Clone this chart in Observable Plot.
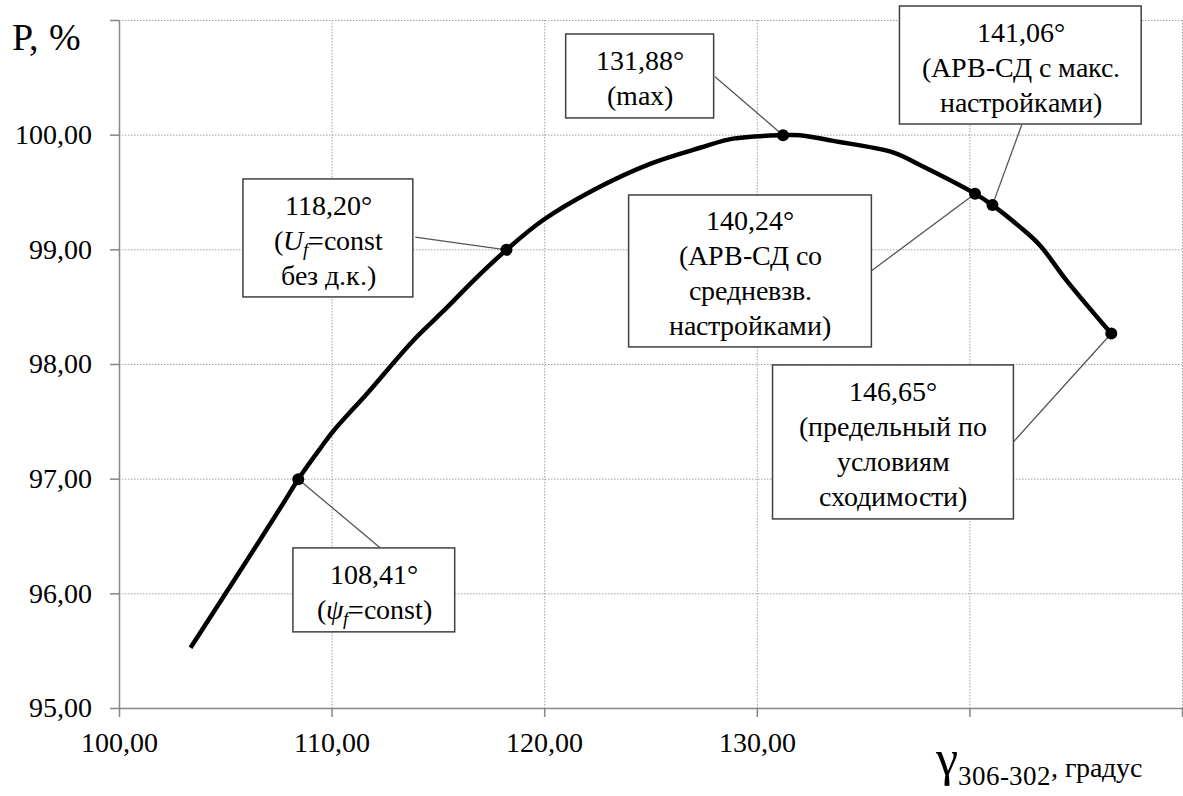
<!DOCTYPE html>
<html>
<head>
<meta charset="utf-8">
<script src="https://cdn.jsdelivr.net/npm/d3@7"></script>
<script src="https://cdn.jsdelivr.net/npm/@observablehq/plot@0.6"></script>
<style>
  @font-face { font-family: "ChartSerif"; font-style: normal; font-weight: 400; src: local("Liberation Serif"), local("LiberationSerif"), local("LiberationSerif-Regular"); }
  @font-face { font-family: "ChartSerif"; font-style: italic; font-weight: 400; src: local("Liberation Serif Italic"), local("LiberationSerif-Italic"); }
</style>
</head>
<body style="margin:0;background:white">
<div id="chart"></div>
<script>
// ---- data ----
const curveX = [103.34, 104.42, 106.02, 107.57, 108.41, 109.45, 110.06, 111.66, 113.82, 115.42, 116.64, 118.20, 119.93, 122.28, 124.96, 127.31, 128.86, 131.21, 132.01, 133.56, 136.38, 137.65, 140.24, 141.06, 142.35, 143.29, 144.56, 146.65];
const curveY = [95.53, 95.84, 96.30, 96.75, 97.00, 97.27, 97.42, 97.75, 98.21, 98.50, 98.73, 99.00, 99.26, 99.52, 99.75, 99.89, 99.97, 100.00, 100.00, 99.95, 99.85, 99.74, 99.49, 99.39, 99.20, 99.04, 98.73, 98.27];

const markX = [108.41, 118.20, 131.21, 140.24, 141.06, 146.65];
const markY = [97.00, 99.00, 100.00, 99.49, 99.39, 98.27];
const markLabels = [
  "108,41°\n(ψf=const)",
  "118,20°\n(Uf=const\nбез д.к.)",
  "131,88°\n(max)",
  "140,24°\n(АРВ-СД со\nсредневзв.\nнастройками)",
  "141,06°\n(АРВ-СД с макс.\nнастройками)",
  "146,65°\n(предельный по\nусловиям\nсходимости)"
];

const xTicks = [100, 110, 120, 130, 140, 150];
const xTickLabels = ["100,00", "110,00", "120,00", "130,00", "", ""];
const yTicks = [95, 96, 97, 98, 99, 100, 101];
const yTickLabels = ["95,00", "96,00", "97,00", "98,00", "99,00", "100,00", ""];

// ---- annotation layout (data units) ----
const boxX1 = [108.18, 105.83, 121.01, 123.97, 136.71, 130.74];
const boxX2 = [115.79, 113.82, 127.97, 135.39, 148.08, 142.07];
const boxTop = [96.396, 99.614, 100.878, 99.474, 101.122, 97.992];
const boxBottom = [95.664, 98.585, 100.146, 98.149, 100.093, 96.649];
const leadX = [112.27, 113.91, 128.01, 135.39, 142.44, 142.07];
const leadY = [96.40, 99.11, 100.51, 98.82, 100.09, 97.33];

const xLab = new Map(xTicks.map((t, i) => [t, xTickLabels[i]]));
const yLab = new Map(yTicks.map((t, i) => [t, yTickLabels[i]]));
const curveIdx = d3.range(curveX.length);
const markIdx = d3.range(markX.length);

const font = "ChartSerif, 'Liberation Serif', serif";
const axisGray = "#878787";
const gridGray = "#a0a0a0";

const svg = Plot.plot({
  width: 1183,
  height: 796,
  marginLeft: 119,
  marginTop: 20,
  marginRight: 1,
  marginBottom: 88,
  x: {domain: [100, 150], label: null},
  y: {domain: [95, 101], label: null},
  marks: [
    Plot.gridX(xTicks.slice(1), {stroke: gridGray, strokeOpacity: 1, strokeWidth: 1, strokeDasharray: "1.5,1.5"}),
    Plot.gridY(yTicks.slice(1), {stroke: gridGray, strokeOpacity: 1, strokeWidth: 1, strokeDasharray: "1.5,1.5"}),
    Plot.axisX(xTicks, {tickSize: 9, tickFormat: () => "", color: axisGray, strokeWidth: 1.5, label: null}),
    Plot.axisY(yTicks, {tickSize: 9, tickFormat: () => "", color: axisGray, strokeWidth: 1.5, label: null}),
    Plot.axisX(xTicks, {tickSize: 0, tickPadding: 24, tickFormat: d => xLab.get(d), color: "black", fontSize: 28, fontFamily: font, label: null}),
    Plot.axisY(yTicks, {tickSize: 0, tickPadding: 28, tickFormat: d => yLab.get(d), color: "black", fontSize: 28, fontFamily: font, label: null}),
    Plot.ruleX([100], {stroke: axisGray, strokeWidth: 1.5}),
    Plot.ruleY([95], {stroke: axisGray, strokeWidth: 1.5}),
    Plot.line(curveIdx, {x: i => curveX[i], y: i => curveY[i], curve: "catmull-rom", stroke: "black", strokeWidth: 4.5, strokeLinecap: "butt"}),
    Plot.link(markIdx, {x1: i => markX[i], y1: i => markY[i], x2: i => leadX[i], y2: i => leadY[i], stroke: "#555", strokeWidth: 1.3}),
    Plot.rect(markIdx, {x1: i => boxX1[i], x2: i => boxX2[i], y1: i => boxBottom[i], y2: i => boxTop[i], fill: "white", stroke: "#404040", strokeWidth: 1.5}),
    Plot.text(markIdx, {x: i => (boxX1[i] + boxX2[i]) / 2, y: i => (boxTop[i] + boxBottom[i]) / 2, text: i => markLabels[i], lineHeight: 1.25, fontSize: 28, fontFamily: font, fill: "black"}),
    Plot.dot(markIdx, {x: i => markX[i], y: i => markY[i], r: 6, fill: "black", stroke: "none"})
  ]
});

// italic symbols with subscript f
d3.select(svg).selectAll("tspan").each(function() {
  const t = this.textContent;
  let sym = null, rest = null;
  if (t === "(Uf=const") { sym = "U"; rest = "=const"; }
  if (t === "(ψf=const)") { sym = "ψ"; rest = "=const)"; }
  if (!sym) return;
  const el = d3.select(this);
  el.text("");
  el.append("tspan").text("(");
  el.append("tspan").attr("font-style", "italic").text(sym);
  el.append("tspan").attr("font-style", "italic").attr("font-size", 19).attr("dy", 6).text("f");
  el.append("tspan").attr("dy", -6).text(rest);
});

const root = d3.select(svg);

root.append("text")
  .attr("x", 12).attr("y", 50)
  .attr("text-anchor", "start")
  .attr("font-size", 38).attr("fill", "black")
  .text("P, %");

const title = root.append("text")
  .attr("x", 936).attr("y", 775)
  .attr("text-anchor", "start")
  .attr("fill", "black");
title.append("tspan").attr("font-size", 50).text("γ");
title.append("tspan").attr("font-size", 27).attr("dy", 10).text("306-302");
title.append("tspan").attr("font-size", 28).attr("dy", -8).text(", градус");

root.attr("font-family", font);
root.selectAll("text").attr("font-family", font).each(function() {
  this.style.setProperty("font-family", font, "important");
});

document.getElementById("chart").appendChild(svg);
</script>
</body>
</html>
